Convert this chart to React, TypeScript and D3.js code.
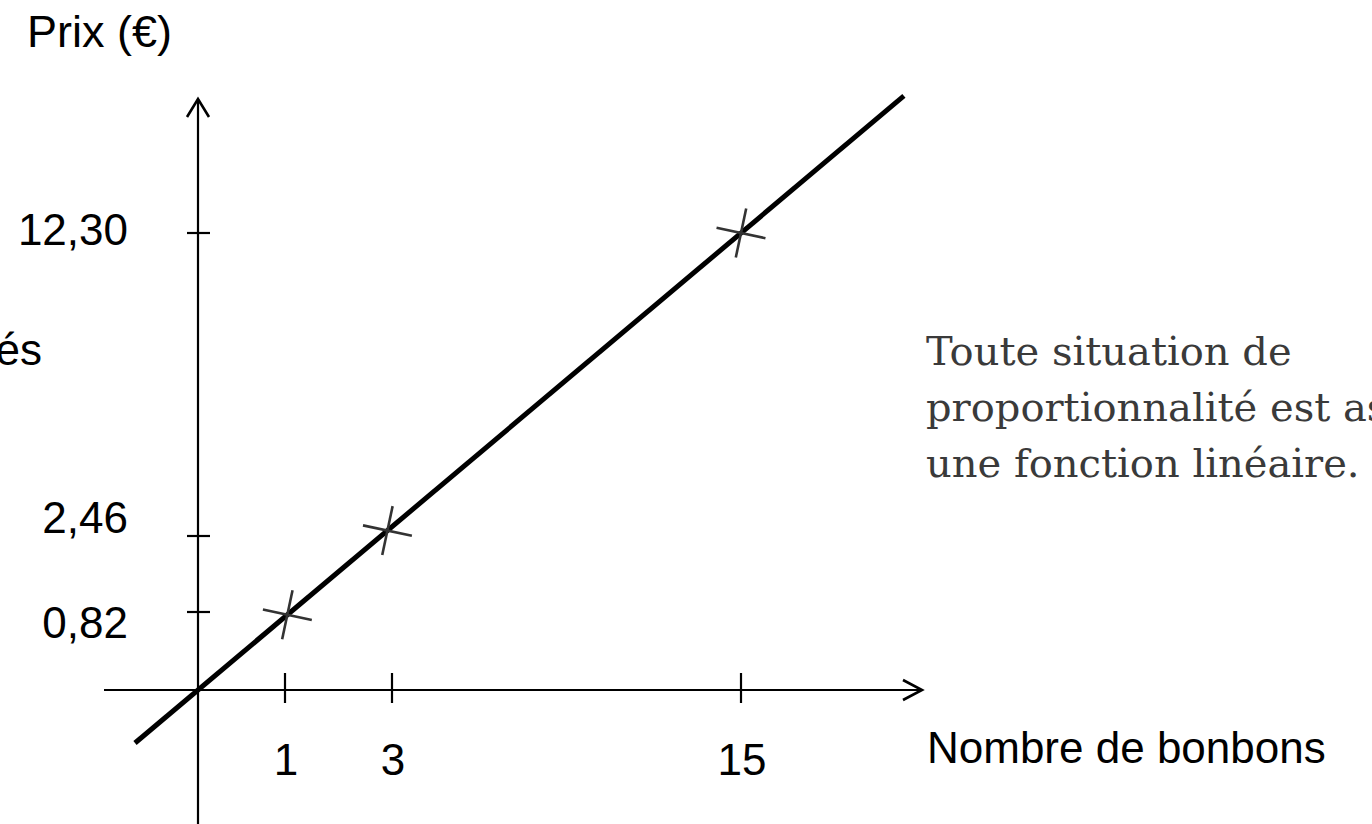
import React from "react";
import * as d3 from "d3";

// ---- data ----
const candies = [1, 3, 15];
const prices = [0.82, 2.46, 12.3];
const priceLabels = ["0,82", "2,46", "12,30"];
const candyLabels = ["1", "3", "15"];
const yTitle = "Prix (€)";
const xTitle = "Nombre de bonbons";
const leftCut = "Quantités";
const noteLines = [
  "Toute situation de",
  "proportionnalité est associée à",
  "une fonction linéaire.",
];

// ---- layout ----
const W = 1372;
const H = 824;
const sans = "'Liberation Sans', Arial, sans-serif";
const serif = "'DejaVu Serif', 'Liberation Serif', serif";
// schematic (non-proportional) axes: piecewise scales
const xScale = d3.scaleLinear().domain([0, ...candies]).range([198, 285, 392, 741]);
const yScale = d3.scaleLinear().domain([0, ...prices]).range([690, 612, 536, 233]);
// vertical nudges for the hand-placed price labels
const priceLabelDy = [26, -3, 12];

export default function App() {
  const ox = xScale(0);
  const oy = yScale(0);
  const last = candies.length - 1;
  const px = xScale(candies[last]) - ox;
  const py = yScale(prices[last]) - oy;
  const len = Math.hypot(px, py);
  const ux = px / len;
  const uy = py / len;

  const lineGen = d3.line<number>()
    .x((t) => ox + px * t)
    .y((t) => oy + py * t);
  const linePath = lineGen([-0.116, 1.3]) || "";

  // markers: projection of (x tick, y tick) onto the line
  const markers = candies.map((c, i) => {
    const vx = xScale(c) - ox;
    const vy = yScale(prices[i]) - oy;
    const d = vx * ux + vy * uy;
    return { x: ox + ux * d, y: oy + uy * d };
  });

  const xLeft = 104;
  const xRight = 922;
  const yTop = 99;

  return (
    <div style={{ position: "absolute", left: 0, top: 0 }}>
      <svg width={W} height={H} style={{ display: "block", background: "#fff" }}>
        {/* axes */}
        <g stroke="#000" strokeWidth={2.2} fill="none" strokeLinecap="butt">
          <line x1={xLeft} y1={oy} x2={xRight} y2={oy} />
          <polyline points={`${xRight - 19},${oy - 10} ${xRight},${oy} ${xRight - 19},${oy + 10}`} strokeWidth={2.6} />
          <line x1={ox} y1={H} x2={ox} y2={yTop} />
          <polyline points={`${ox - 11},${yTop + 18} ${ox},${yTop} ${ox + 11},${yTop + 18}`} strokeWidth={2.6} />
          {candies.map((c) => (
            <line key={"xt" + c} x1={xScale(c)} y1={oy - 17} x2={xScale(c)} y2={oy + 13} />
          ))}
          {prices.map((p) => (
            <line key={"yt" + p} x1={ox - 11} y1={yScale(p)} x2={ox + 12} y2={yScale(p)} />
          ))}
        </g>

        {/* the linear function */}
        <path d={linePath} stroke="#000" strokeWidth={5} fill="none" />

        {/* markers */}
        <g stroke="#333" strokeWidth={2.6}>
          {markers.map((m, i) => (
            <g key={"m" + i} transform={`translate(${m.x},${m.y}) rotate(12)`}>
              <line x1={-25} y1={0} x2={25} y2={0} />
              <line x1={0} y1={-25} x2={0} y2={25} />
            </g>
          ))}
        </g>

        {/* texts */}
        <g fontFamily={sans} fontSize={44} fill="#000">
          <text x={27} y={47} fontSize={45}>{yTitle}</text>
          {prices.map((p, i) => (
            <text key={"yl" + p} x={128} y={yScale(p) + priceLabelDy[i]} textAnchor="end">
              {priceLabels[i]}
            </text>
          ))}
          {candies.map((c, i) => (
            <text key={"xl" + c} x={xScale(c) + 1} y={775} textAnchor="middle">
              {candyLabels[i]}
            </text>
          ))}
          <text x={927} y={763}>{xTitle}</text>
          <text x={42} y={365} textAnchor="end">{leftCut}</text>
        </g>
        <g fontFamily={serif} fontSize={40} fill="#3a3a3a">
          {noteLines.map((l, i) => (
            <text key={"n" + i} x={926} y={365 + i * 56}>{l}</text>
          ))}
        </g>
      </svg>
    </div>
  );
}
